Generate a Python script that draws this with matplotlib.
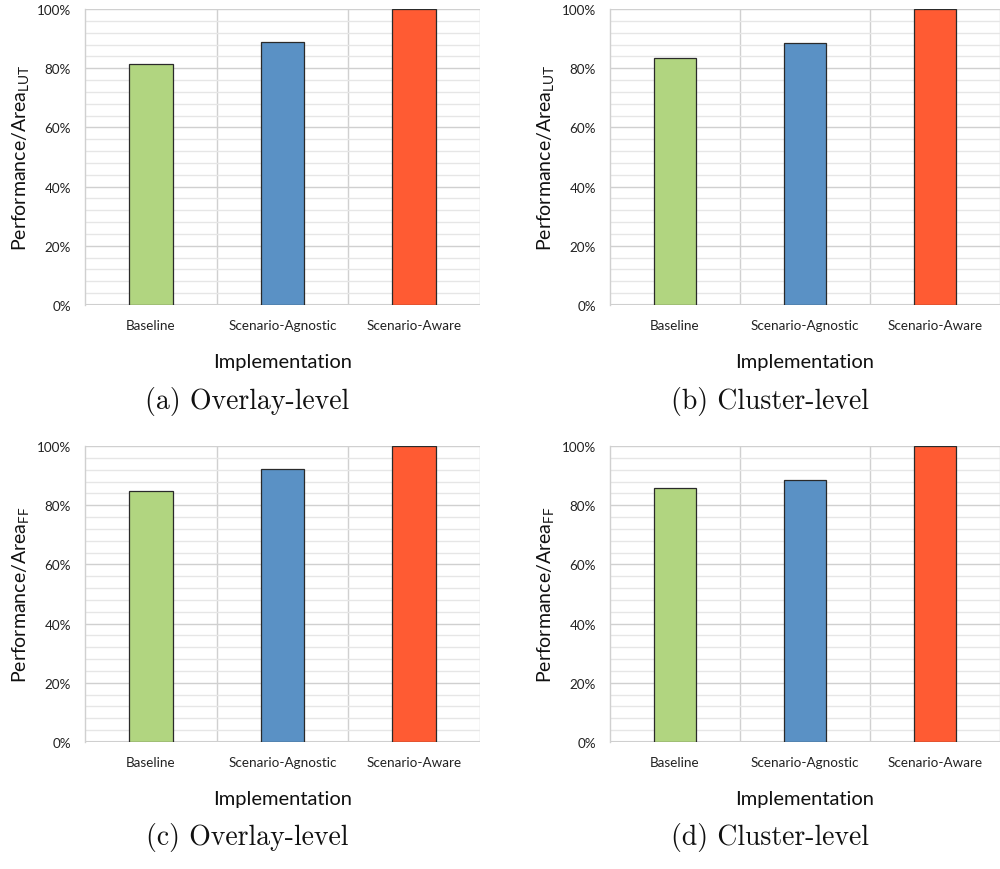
import matplotlib
matplotlib.use('Agg')
import matplotlib.pyplot as plt
from matplotlib.ticker import MultipleLocator, PercentFormatter

plt.rcParams['font.family'] = ['Lato', 'DejaVu Sans']
plt.rcParams['mathtext.fontset'] = 'custom'
plt.rcParams['mathtext.rm'] = 'Lato'
plt.rcParams['mathtext.it'] = 'Lato:italic'

# data (percent, normalised to Scenario-Aware)
categories = ['Baseline', 'Scenario-Agnostic', 'Scenario-Aware']
overlay_lut = [81.5, 88.9, 100]
cluster_lut = [83.4, 88.5, 100]
overlay_ff = [84.9, 92.1, 100]
cluster_ff = [85.8, 88.5, 100]
ylabels = ['Performance/Area$_{\\mathrm{LUT}}$', 'Performance/Area$_{\\mathrm{LUT}}$',
           'Performance/Area$_{\\mathrm{FF}}$', 'Performance/Area$_{\\mathrm{FF}}$']
captions = ['(a) Overlay-level', '(b) Cluster-level', '(c) Overlay-level', '(d) Cluster-level']
bar_colors = ['#b1d580', '#5a91c5', '#ff5b33']

W, H = 1000, 870
fig = plt.figure(figsize=(W / 100, H / 100), dpi=100)

# panel boxes in pixels: left, top, right, bottom
boxes = [(85, 10, 480, 306), (610, 10, 1000, 306),
         (85, 447, 480, 743), (610, 447, 1000, 743)]

for values, ylab, cap, (l, t, r, b) in zip(
        [overlay_lut, cluster_lut, overlay_ff, cluster_ff], ylabels, captions, boxes):
    ax = fig.add_axes([l / W, (H - b) / H, (r - l) / W, (b - t) / H])
    x = range(len(categories))
    ax.bar(x, values, width=0.33, color=bar_colors, edgecolor='#2a2a2a',
           linewidth=0.9, zorder=3)
    ax.set_xlim(-0.5, len(categories) - 0.5)
    ax.set_ylim(0, 100)

    ax.yaxis.set_major_locator(MultipleLocator(20))
    ax.yaxis.set_minor_locator(MultipleLocator(4))
    ax.yaxis.set_major_formatter(PercentFormatter(decimals=0))
    ax.grid(which='major', axis='y', color='#d0d0d0', linewidth=1.0, zorder=0)
    ax.grid(which='minor', axis='y', color='#e6e6e6', linewidth=1.0, zorder=0)
    for bx in [0.5, 1.5, 2.5]:
        ax.axvline(bx, color='#d0d0d0', linewidth=1.0, zorder=0)

    for side in ['top', 'right', 'bottom']:
        ax.spines[side].set_visible(False)
    ax.spines['left'].set_color('#d0d0d0')
    ax.spines['left'].set_linewidth(1.0)
    ax.axhline(0, color='#cfcfcf', linewidth=1.5, zorder=2)

    ax.set_xticks(list(x))
    ax.set_xticklabels(categories)
    ax.tick_params(axis='both', length=0, labelsize=9.7, colors='#222222')
    ax.tick_params(axis='x', pad=10)
    ax.tick_params(axis='y', pad=10)
    ax.tick_params(which='minor', length=0)

    ax.set_ylabel(ylab, fontsize=14, color='#111111', labelpad=4)
    ax.set_xlabel('Implementation', fontsize=14.5, color='#111111', labelpad=16)

    fig.text((l + r) / 2 / W - 0.035, 1 - (b + 95) / H, cap, family='cmr10',
             fontsize=20, ha='center', va='center', color='#111111')

fig.savefig('out.png', dpi=100)
